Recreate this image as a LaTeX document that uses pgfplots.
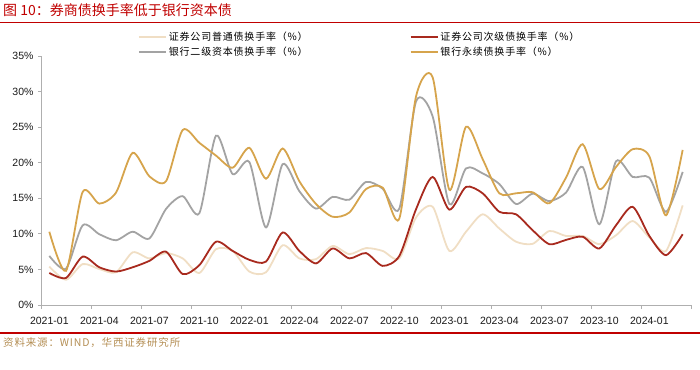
\documentclass[border=0pt]{standalone}
\usepackage{fontspec}
\setmainfont{Liberation Sans}
\newfontfamily\cjk{Noto Sans CJK SC}
\newfontfamily\cjksp[LetterSpace=8]{Noto Sans CJK SC}
\usepackage{pgfplots}
\usepackage{pgfplotstable}
\pgfplotsset{compat=1.18}
\definecolor{titlered}{RGB}{192,0,0}
\definecolor{srccol}{RGB}{180,142,84}
\definecolor{cbeige}{RGB}{240,222,196}
\definecolor{cdred}{RGB}{168,42,30}
\definecolor{cgray}{RGB}{163,163,163}
\definecolor{cgold}{RGB}{214,164,76}
\definecolor{axgray}{RGB}{175,175,175}
\pgfplotstableread{
i beige dred gray gold
0 5.4 4.5 6.9 10.3
1 3.55 3.8 5.1 4.8
2 5.75 6.8 11.2 15.9
3 5.05 5.3 9.95 14.25
4 4.6 4.7 9.1 15.8
5 7.4 5.3 10.3 21.4
6 6.55 6.2 9.35 18.1
7 7.3 7.5 13.5 17.4
8 6.55 4.35 15.3 24.6
9 4.5 5.6 12.9 22.8
10 7.85 8.9 23.8 21.0
11 7.6 7.6 18.4 19.3
12 4.7 6.35 20.1 22.1
13 4.6 6.1 10.9 17.75
14 8.4 10.2 19.8 22.0
15 6.55 7.6 16.0 17.4
16 6.45 5.85 13.55 14.2
17 8.3 7.95 15.2 12.4
18 7.15 6.55 14.8 13.0
19 8.0 7.3 17.3 16.3
20 7.6 5.5 16.35 16.5
21 6.55 6.9 13.55 12.15
22 12.3 13.45 28.6 29.3
23 13.8 18.0 26.5 32.0
24 7.6 13.4 14.2 16.2
25 10.3 16.6 19.2 25.05
26 12.75 15.7 18.5 20.5
27 10.75 13.1 17.0 15.7
28 8.9 12.75 14.2 15.7
29 8.6 10.5 15.65 15.85
30 10.4 8.55 14.6 14.3
31 9.7 9.15 15.8 17.9
32 9.7 9.6 19.4 22.6
33 8.55 7.95 11.35 16.3
34 9.8 11.2 20.2 19.4
35 11.8 13.8 18.0 21.9
36 9.5 9.7 17.9 20.9
37 7.6 7.0 13.1 12.6
38 14.0 9.95 18.7 21.8
}\datatable
\begin{document}
\begin{tikzpicture}
\useasboundingbox (0,0) rectangle (700pt,-369pt);
\node[anchor=west, inner sep=0pt, text=titlered, font=\cjk\fontsize{14}{16}\selectfont] at (3pt,-10.5pt) {图 10：券商债换手率低于银行资本债};
\draw[titlered, line width=1.6pt] (0pt,-22.7pt) -- (700pt,-22.7pt);
\draw[titlered, line width=1.6pt] (0pt,-332.7pt) -- (700pt,-332.7pt);
\node[anchor=west, inner sep=0pt, text=srccol, font=\cjksp\fontsize{10.5}{12}\selectfont] at (3pt,-343pt) {资料来源：WIND，华西证券研究所};
\begin{axis}[
  at={(41pt,-305pt)}, anchor=south west,
  scale only axis, width=650pt, height=249pt,
  xmin=-0.5, xmax=38.5, ymin=0, ymax=35,
  axis lines*=left,
  axis line style={draw=axgray, line width=0.8pt},
  /pgf/number format/assume math mode=true,
  tick align=outside,
  xtick={0,3,6,9,12,15,18,21,24,27,30,33,36},
  xticklabels={2021-01,2021-04,2021-07,2021-10,2022-01,2022-04,2022-07,2022-10,2023-01,2023-04,2023-07,2023-10,2024-01},
  major x tick style={draw=none},
  minor xtick={-0.5,2.5,5.5,8.5,11.5,14.5,17.5,20.5,23.5,26.5,29.5,32.5,35.5,38.5},
  minor x tick style={draw=axgray, line width=0.8pt},
  minor tick length=4pt,
  ytick={0,5,10,15,20,25,30,35},
  yticklabel={\pgfmathprintnumber{\tick}\%},
  major y tick style={draw=axgray, line width=0.8pt},
  major tick length=3pt,
  ticklabel style={font=\fontsize{10.5}{12}\selectfont, text=black!90},
  xticklabel style={yshift=-6pt},
  yticklabel style={xshift=-1pt},
  legend columns=2,
  legend cell align=left,
  legend style={at={(axis description cs:0.149,1.105)}, anchor=north west, draw=none, fill=none,
    font=\cjksp\fontsize{10}{12}\selectfont, inner sep=0pt, row sep=0.5pt,
    /tikz/column 2/.style={column sep=100pt}},
  legend image code/.code={\draw[#1, line width=1.8pt] (0pt,0pt) -- (27pt,0pt);},
  every axis plot/.append style={line width=1.8pt, smooth, tension=0.45},
]
\addplot[cbeige] table[x=i, y=beige] {\datatable};
\addlegendentry{证券公司普通债换手率（\%）}
\addplot[cdred] table[x=i, y=dred] {\datatable};
\addlegendentry{证券公司次级债换手率（\%）}
\addplot[cgray] table[x=i, y=gray] {\datatable};
\addlegendentry{银行二级资本债换手率（\%）}
\addplot[cgold] table[x=i, y=gold] {\datatable};
\addlegendentry{银行永续债换手率（\%）}
\end{axis}
\end{tikzpicture}
\end{document}
